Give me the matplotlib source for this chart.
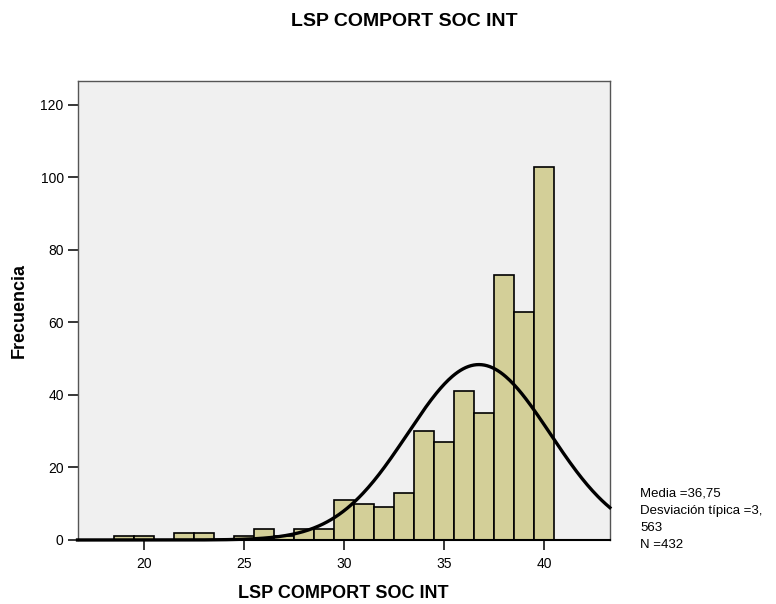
import numpy as np
from matplotlib import pyplot as plt

plt.rcParams['font.family'] = ['Liberation Sans', 'DejaVu Sans']

# histogram counts (bins of width 1, centred on integers)
valores = [19, 20, 22, 23, 25, 26, 27, 28, 29, 30, 31, 32, 33, 34, 35, 36, 37, 38, 39, 40]
frecuencias = [1, 1, 2, 2, 1, 3, 1, 3, 3, 11, 10, 9, 13, 30, 27, 41, 35, 73, 63, 103]
media = 36.75
desv = 3.563
n = 432
xticks = [20, 25, 30, 35, 40]
yticks = [0, 20, 40, 60, 80, 100, 120]

fig = plt.figure(figsize=(7.76, 6.04), dpi=100)
ax = fig.add_axes([0.0999, 0.106, 0.686, 0.760])
ax.set_facecolor('#f0f0f0')

ax.bar(valores, frecuencias, width=1.0, color='#d3cf98', edgecolor='black',
       linewidth=1.2, zorder=2)

xs = np.linspace(16.675, 43.3, 400)
curva = n * 1.0 * np.exp(-0.5 * ((xs - media) / desv) ** 2) / (desv * np.sqrt(2 * np.pi))
ax.plot(xs, curva, color='black', linewidth=2.4, zorder=3, clip_on=False)

ax.set_xlim(16.675, 43.3)
ax.set_ylim(0, 126.6)
ax.set_xticks(xticks)
ax.set_yticks(yticks)
ax.tick_params(axis='both', direction='out', length=7, width=1.1, labelsize=10,
               colors='black', pad=3)
ax.tick_params(axis='x', pad=5)
for s in ax.spines.values():
    s.set_color('#555555')
    s.set_linewidth(1.0)
ax.spines['bottom'].set_color('black')
ax.spines['bottom'].set_linewidth(1.5)

ax.set_xlabel('LSP COMPORT SOC INT', fontsize=13, fontweight='bold', labelpad=10)
ax.set_ylabel('Frecuencia', fontsize=13, fontweight='bold', labelpad=9)

fig.text(404 / 776, 1 - 22 / 604, 'LSP COMPORT SOC INT', ha='center', va='center',
         fontsize=14, fontweight='bold')

leyenda = 'Media =%s\nDesviación típica =3,\n563\nN =%d' % (str(media).replace('.', ','), n)
fig.text(640 / 776, 1 - 488 / 604, leyenda, ha='left', va='top', fontsize=9.5,
         linespacing=1.55)

fig.savefig('out.png', dpi=100)
